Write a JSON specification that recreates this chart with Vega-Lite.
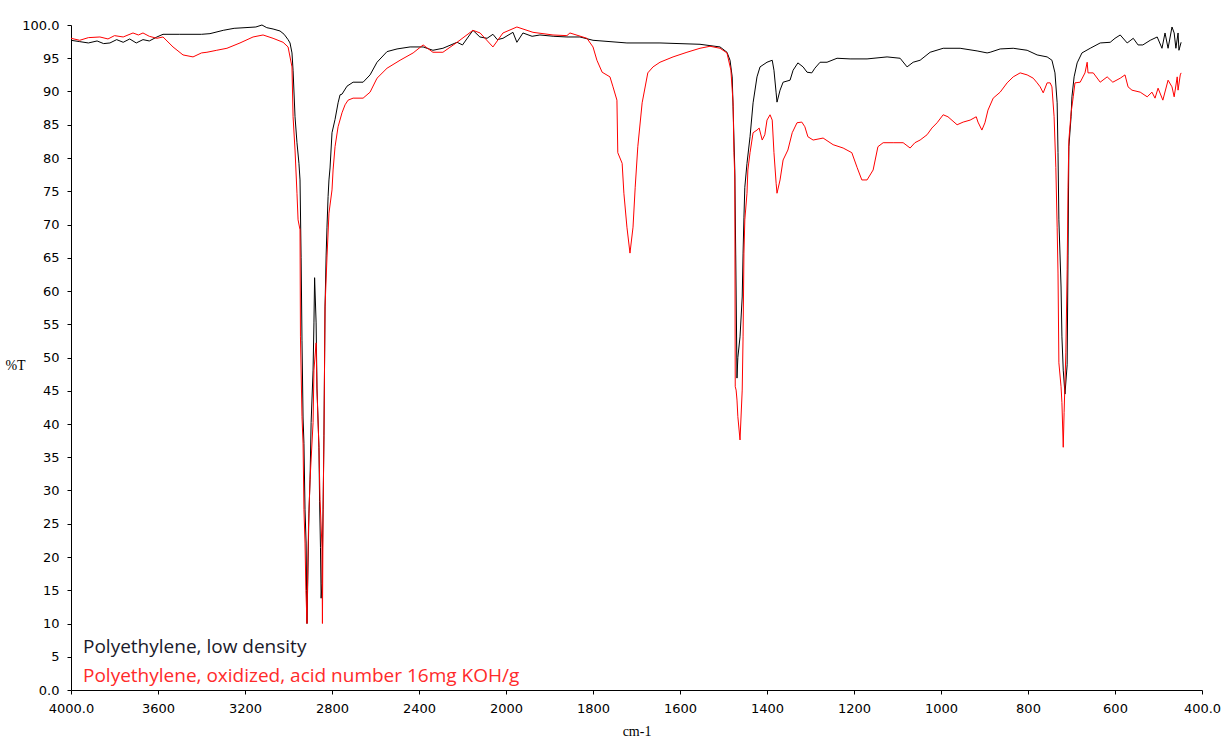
{
  "$schema": "https://vega.github.io/schema/vega-lite/v6.json",
  "autosize": {"type": "none"},
  "padding": {"left": 71, "top": 25, "right": 23, "bottom": 48},
  "width": 1131,
  "height": 665,
  "background": "white",
  "config": {"view": {"stroke": null}},
  "datasets": {
    "ldpe": [
      [4000,97.7],[3960,97.5],[3920,97.3],[3880,97.6],[3850,97.2],[3821,97.3],[3790,97.8],[3760,97.4],[3730,97.9],[3700,97.3],[3669,97.8],[3640,97.6],[3605,98.2],[3577,98.6],[3500,98.6],[3400,98.6],[3361,98.7],[3300,99.2],[3250,99.5],[3200,99.6],[3150,99.7],[3122,100.0],[3100,99.6],[3071,99.4],[3039,99.1],[3020,98.6],[3002,97.8],[2993,97.3],[2984,95.8],[2979,93.2],[2970,86.2],[2961,82.3],[2952,79.2],[2947,76.7],[2942,65.0],[2938,52.6],[2933,40.9],[2929,37.1],[2924,27.1],[2919,22.1],[2917,15.0],[2915,10.0],[2910,19.1],[2906,26.6],[2901,31.6],[2896,40.2],[2887,48.1],[2883,55.2],[2880,62.0],[2873,55.2],[2869,45.4],[2860,36.5],[2857,28.3],[2853,21.4],[2850,13.8],[2846,16.0],[2841,27.1],[2837,38.3],[2832,57.6],[2827,65.4],[2823,69.6],[2818,74.2],[2814,76.7],[2809,78.5],[2800,83.8],[2786,85.8],[2772,88.3],[2763,89.5],[2754,89.6],[2731,90.8],[2703,91.4],[2657,91.4],[2625,92.5],[2593,94.4],[2547,96.0],[2501,96.4],[2441,96.7],[2381,96.7],[2336,96.2],[2290,96.5],[2225,97.4],[2200,97.0],[2152,99.2],[2120,98.2],[2087,98.0],[2060,98.6],[2040,97.8],[2014,98.0],[1984,98.9],[1975,97.4],[1961,98.8],[1940,98.3],[1922,98.5],[1890,98.3],[1860,98.2],[1830,98.2],[1800,97.7],[1722,97.3],[1646,97.3],[1554,97.1],[1508,96.7],[1492,95.9],[1485,94.7],[1480,92.2],[1478,87.7],[1474,78.2],[1471,60.0],[1469,46.9],[1467,50.0],[1462,53.1],[1457,59.1],[1455,65.7],[1453,71.1],[1451,75.6],[1446,79.2],[1439,83.2],[1432,88.3],[1423,92.2],[1416,93.7],[1400,94.4],[1388,94.7],[1384,93.2],[1379,89.8],[1377,88.4],[1370,90.2],[1363,91.4],[1347,91.7],[1340,93.2],[1329,94.3],[1317,93.7],[1308,92.9],[1297,92.8],[1290,93.5],[1278,94.4],[1262,94.4],[1239,95.0],[1209,94.9],[1170,94.9],[1124,95.2],[1094,95.0],[1078,93.7],[1064,94.4],[1048,94.7],[1025,95.9],[995,96.5],[956,96.5],[917,96.1],[894,95.8],[887,95.9],[864,96.4],[834,96.5],[802,96.2],[779,95.5],[756,95.2],[745,94.7],[738,92.8],[733,88.3],[731,80.8],[729,70.7],[724,60.6],[722,53.1],[719,48.1],[715,44.5],[710,48.9],[708,65.4],[706,81.7],[701,86.2],[699,89.2],[694,92.2],[687,94.3],[676,95.8],[657,96.5],[634,97.3],[611,97.4],[600,98.0],[588,98.5],[572,97.3],[558,98.0],[547,97.0],[536,97.0],[519,97.7],[503,98.2],[492,96.5],[485,98.8],[478,96.5],[469,99.7],[464,98.8],[460,96.5],[455,98.8],[453,96.2],[448,97.4]
    ],
    "ox": [
      [4000,98.0],[3960,97.7],[3920,98.1],[3867,98.2],[3830,97.9],[3800,98.4],[3760,98.2],[3715,98.8],[3690,98.5],[3669,98.8],[3640,98.3],[3605,98.0],[3577,98.2],[3531,96.7],[3485,95.5],[3439,95.2],[3400,95.8],[3375,95.9],[3330,96.2],[3283,96.5],[3223,97.3],[3163,98.2],[3117,98.5],[3071,98.0],[3025,97.4],[3002,96.7],[2984,93.7],[2979,86.2],[2970,81.2],[2961,74.7],[2956,70.7],[2947,69.2],[2945,53.1],[2938,41.1],[2933,37.0],[2929,27.1],[2924,22.1],[2920,15.0],[2915,10.0],[2911,19.1],[2908,24.5],[2901,31.6],[2887,40.2],[2883,48.1],[2873,52.2],[2869,45.1],[2860,36.5],[2855,28.6],[2846,21.5],[2844,10.0],[2841,26.6],[2837,38.1],[2832,57.6],[2823,65.1],[2814,71.7],[2800,75.2],[2795,78.2],[2786,81.7],[2772,84.7],[2754,86.8],[2740,88.0],[2726,88.7],[2703,89.0],[2657,89.0],[2625,89.9],[2593,92.0],[2547,93.5],[2487,94.7],[2427,95.8],[2381,97.0],[2336,95.9],[2290,95.9],[2225,97.4],[2152,99.2],[2119,98.8],[2060,96.7],[2014,98.8],[1975,99.7],[1938,98.9],[1892,98.5],[1860,98.4],[1853,98.8],[1814,98.0],[1800,96.7],[1791,94.7],[1779,92.9],[1761,92.2],[1754,90.7],[1745,88.7],[1743,80.8],[1733,79.2],[1729,74.7],[1722,69.6],[1715,65.7],[1708,69.6],[1703,75.6],[1697,81.7],[1687,88.3],[1674,92.8],[1662,93.7],[1646,94.4],[1616,95.2],[1584,95.9],[1554,96.5],[1531,96.8],[1508,96.5],[1492,95.8],[1483,93.2],[1478,88.3],[1476,80.8],[1474,77.1],[1473,45.6],[1471,45.1],[1469,43.6],[1467,41.1],[1462,37.6],[1457,45.1],[1455,53.1],[1453,65.7],[1451,70.7],[1446,74.7],[1444,78.2],[1439,80.8],[1432,83.8],[1423,84.2],[1418,84.5],[1411,82.7],[1405,83.5],[1400,85.7],[1393,86.5],[1388,85.7],[1384,80.8],[1379,76.2],[1377,74.7],[1370,76.7],[1363,79.7],[1352,81.2],[1342,83.8],[1331,85.3],[1320,85.4],[1313,84.7],[1306,83.2],[1294,82.7],[1271,83.0],[1248,82.0],[1225,81.5],[1205,80.8],[1193,78.6],[1182,76.7],[1170,76.7],[1156,78.2],[1145,81.7],[1133,82.3],[1110,82.3],[1087,82.3],[1071,81.5],[1060,82.3],[1048,82.7],[1032,83.5],[1021,84.5],[1009,85.3],[995,86.5],[984,86.2],[963,85.0],[949,85.4],[933,85.7],[919,86.2],[915,85.4],[906,84.2],[899,85.3],[892,87.2],[880,89.0],[864,89.9],[848,91.3],[834,92.2],[818,92.8],[802,92.5],[788,92.0],[779,91.3],[772,90.7],[765,89.8],[756,91.3],[749,91.3],[745,90.7],[740,86.2],[736,78.6],[733,69.6],[731,62.7],[729,49.2],[724,45.6],[722,43.2],[719,36.5],[717,41.7],[713,50.7],[710,63.2],[708,75.6],[706,82.7],[701,86.8],[696,89.2],[692,91.3],[680,91.4],[669,92.8],[664,94.4],[662,92.8],[650,92.8],[634,91.4],[618,92.2],[605,91.4],[588,92.0],[577,92.5],[570,90.7],[561,90.2],[542,89.9],[526,89.2],[515,89.9],[508,89.0],[501,90.5],[490,88.7],[478,91.7],[469,90.7],[464,89.2],[457,92.2],[455,90.2],[450,92.5],[448,92.8]
    ]
  },
  "layer": [
    {
      "data": {"name": "ldpe"},
      "transform": [
        {"calculate": "datum[0]", "as": "wn"},
        {"calculate": "datum[1]", "as": "t"},
        {"calculate": "'Polyethylene, low density'", "as": "series"}
      ],
      "mark": {"type": "line", "strokeWidth": 1, "interpolate": "linear"},
      "encoding": {
        "x": {"field": "wn", "type": "quantitative"},
        "y": {"field": "t", "type": "quantitative"},
        "color": {"field": "series", "type": "nominal"}
      }
    },
    {
      "data": {"name": "ox"},
      "transform": [
        {"calculate": "datum[0]", "as": "wn"},
        {"calculate": "datum[1]", "as": "t"},
        {"calculate": "'Polyethylene, oxidized, acid number 16mg KOH/g'", "as": "series"}
      ],
      "mark": {"type": "line", "strokeWidth": 1, "interpolate": "linear"},
      "encoding": {
        "x": {"field": "wn", "type": "quantitative"},
        "y": {"field": "t", "type": "quantitative"},
        "color": {"field": "series", "type": "nominal"}
      }
    }
  ],
  "resolve": {"scale": {"x": "shared", "y": "shared", "color": "shared"}},
  "encoding": {
    "x": {
      "field": "wn", "type": "quantitative",
      "scale": {"domain": [4000, 2000, 400], "range": [0, 435, 1131], "nice": false, "zero": false},
      "axis": {
        "title": "cm-1", "titleFont": "Liberation Serif", "titleFontSize": 14, "titleFontWeight": "normal", "titleColor": "black", "titlePadding": 9,
        "values": [4000, 3600, 3200, 2800, 2400, 2000, 1800, 1600, 1400, 1200, 1000, 800, 600, 400],
        "labelExpr": "datum.value == 4000 ? '4000.0' : datum.value == 400 ? '400.0' : datum.value",
        "labelFont": "DejaVu Sans", "labelFontSize": 13, "labelColor": "black", "labelPadding": 8,
        "tickSize": 4, "tickColor": "black", "domainColor": "black", "grid": false, "labelFlush": false, "labelOverlap": false
      }
    },
    "y": {
      "field": "t", "type": "quantitative",
      "scale": {"domain": [0, 100], "nice": false, "zero": false},
      "axis": {
        "title": "%T", "titleFont": "Liberation Serif", "titleFontSize": 14, "titleFontWeight": "normal", "titleColor": "black",
        "titleAngle": 0, "titleX": -56, "titleY": 340, "titleAlign": "center", "titleBaseline": "middle",
        "values": [0, 5, 10, 15, 20, 25, 30, 35, 40, 45, 50, 55, 60, 65, 70, 75, 80, 85, 90, 95, 100],
        "labelExpr": "datum.value == 100 ? '100.0' : datum.value == 0 ? '0.0' : datum.value",
        "labelFont": "DejaVu Sans", "labelFontSize": 13, "labelColor": "black", "labelPadding": 8,
        "tickSize": 4, "tickColor": "black", "domainColor": "black", "grid": false, "labelFlush": false, "labelOverlap": false
      }
    },
    "color": {
      "field": "series", "type": "nominal",
      "scale": {"domain": ["Polyethylene, low density", "Polyethylene, oxidized, acid number 16mg KOH/g"], "range": ["#000000", "#ff0000"]},
      "legend": {
        "title": null, "orient": "none", "legendX": -7, "legendY": 612, "padding": 0,
        "symbolSize": 0, "symbolOpacity": 0, "symbolStrokeWidth": 0, "labelOffset": 0,
        "labelFont": "Open Sans", "labelFontSize": 19, "labelLimit": 700, "rowPadding": 9,
        "encode": {"labels": {"update": {"fill": {"signal": "datum.value === 'Polyethylene, low density' ? '#1a1a2a' : '#ff2a2a'"}}}}
      }
    }
  }
}
